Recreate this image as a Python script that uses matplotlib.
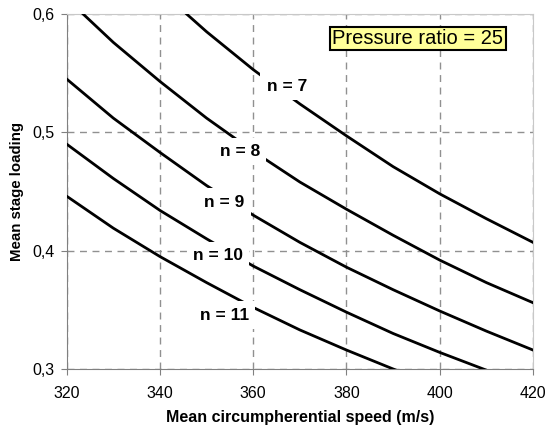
import matplotlib.pyplot as plt

plt.rcParams['font.family'] = ['Liberation Sans', 'DejaVu Sans']

# mean circumferential speed (m/s)
speed = [320, 330, 340, 350, 360, 370, 380, 390, 400, 410, 420]

# mean stage loading, one list per stage count
loading_n7 = [0.700, 0.659, 0.620, 0.585, 0.553, 0.524, 0.497, 0.471, 0.448, 0.427, 0.407]
loading_n8 = [0.613, 0.576, 0.543, 0.512, 0.484, 0.458, 0.435, 0.413, 0.392, 0.373, 0.356]
loading_n9 = [0.545, 0.512, 0.483, 0.455, 0.430, 0.407, 0.386, 0.367, 0.349, 0.332, 0.316]
loading_n10 = [0.490, 0.461, 0.434, 0.410, 0.387, 0.367, 0.348, 0.330, 0.314, 0.299, 0.285]
loading_n11 = [0.446, 0.419, 0.395, 0.373, 0.352, 0.333, 0.316, 0.300, 0.285, 0.271, 0.259]

curve_labels = ["n = 7", "n = 8", "n = 9", "n = 10", "n = 11"]
# label anchor positions (data coords)
label_x = [367.2, 357.1, 353.8, 352.4, 353.8]
label_y = [0.539, 0.484, 0.441, 0.396, 0.3455]

x_ticks = [320, 340, 360, 380, 400, 420]
y_ticks = [0.3, 0.4, 0.5, 0.6]
y_ticklabels = ["0,3", "0,4", "0,5", "0,6"]

fig = plt.figure(figsize=(5.45, 4.28), dpi=100)
ax = fig.add_axes([0.1224, 0.1379, 0.8556, 0.8294])

series = [loading_n7, loading_n8, loading_n9, loading_n10, loading_n11]
for vals in series:
    ax.plot(speed, vals, color='black', linewidth=2.0, zorder=3)

# labels sit on white boxes that cut the curves
for txt, lx, ly in zip(curve_labels, label_x, label_y):
    ax.text(lx, ly, txt, ha='center', va='center', fontsize=12.5, fontweight='bold',
            zorder=5, bbox=dict(facecolor='white', edgecolor='none', pad=4.5))

ax.text(0.753, 0.931, "Pressure ratio = 25", transform=ax.transAxes, ha='center', va='center',
        fontsize=14.5, zorder=6,
        bbox=dict(facecolor='#ffff99', edgecolor='black', linewidth=1.5, boxstyle='square,pad=0.12'))

ax.set_xlim(320, 420)
ax.set_ylim(0.3, 0.6)
ax.set_xticks(x_ticks)
ax.set_yticks(y_ticks)
ax.set_yticklabels(y_ticklabels)
ax.tick_params(labelsize=11.5, length=4, color='#808080')
ax.tick_params(axis='x', pad=8.5)
ax.tick_params(axis='y', pad=5)

ax.grid(True, color='#909090', linestyle=(0, (5, 4)), linewidth=1.0, zorder=1)
ax.set_axisbelow(True)

for s in ['left', 'bottom']:
    ax.spines[s].set_color('#808080')
for s in ['top', 'right']:
    ax.spines[s].set_color('#c8c8c8')

ax.set_xlabel("Mean circumpherential speed (m/s)", fontsize=11.5, fontweight='bold', labelpad=6)
ax.set_ylabel("Mean stage loading", fontsize=10.8, fontweight='bold', labelpad=6)

fig.savefig("out.png", dpi=100)
